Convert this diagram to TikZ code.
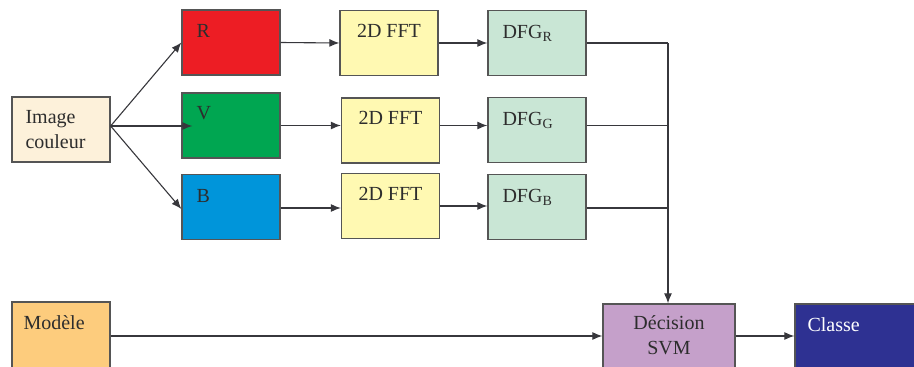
\documentclass[tikz,border=0pt]{standalone}
\usepackage{fontspec}
\setmainfont{Liberation Serif}
\usetikzlibrary{arrows.meta}
\definecolor{beige}{RGB}{253,241,218}
\definecolor{rouge}{RGB}{237,29,36}
\definecolor{vert}{RGB}{0,166,81}
\definecolor{bleu}{RGB}{0,149,218}
\definecolor{jaune}{RGB}{255,249,178}
\definecolor{vertclair}{RGB}{201,230,213}
\definecolor{orangeclair}{RGB}{253,204,125}
\definecolor{mauve}{RGB}{197,160,202}
\definecolor{marine}{RGB}{46,49,146}
\definecolor{bord}{RGB}{85,85,85}
\definecolor{trait}{RGB}{55,55,60}
\definecolor{encre}{RGB}{45,45,45}
\begin{document}
\begin{tikzpicture}[x=1pt, y=-1pt, font=\fontsize{20}{25}\selectfont,
  blk/.style={draw=bord, line width=1.3pt, inner sep=0pt, minimum width=98pt, minimum height=65pt},
  txt/.style={inner sep=0pt, text=encre},
  arr/.style={draw=trait, line width=1.1pt, -{Latex[length=10pt,width=8pt]}},
  lin/.style={draw=trait, line width=1.1pt}]
\useasboundingbox (0,0) rectangle (914,367);
\node[blk, fill=beige] (img) at (61,129.5) {};
\node[blk, fill=rouge] (R) at (231,42.5) {};
\node[blk, fill=vert] (V) at (231,125.5) {};
\node[blk, fill=bleu] (B) at (231,207) {};
\node[blk, fill=jaune] (fftR) at (389,43) {};
\node[blk, fill=jaune] (fftG) at (390.5,130.5) {};
\node[blk, fill=jaune] (fftB) at (390.5,206) {};
\node[blk, fill=vertclair] (dfgR) at (537,43) {};
\node[blk, fill=vertclair] (dfgG) at (537,130) {};
\node[blk, fill=vertclair] (dfgB) at (537,207) {};
\node[blk, fill=orangeclair, minimum height=68pt] (mod) at (61,336) {};
\node[blk, fill=mauve, minimum width=132pt, minimum height=64pt] (svm) at (669,336) {};
\node[blk, fill=marine, minimum width=130pt, minimum height=64pt] (cls) at (860,336) {};
\node[txt, anchor=west, align=left] (timg) at ([shift={(14,0)}]img.west) {Image\\couleur};
\node[txt, anchor=north west] (tR) at ([shift={(15,15)}]R.north west) {R};
\node[txt, anchor=north west] (tV) at ([shift={(15,14)}]V.north west) {V};
\node[txt, anchor=north west] (tB) at ([shift={(15,15)}]B.north west) {B};
\node[txt, anchor=north] (tfftR) at ([shift={(0,14)}]fftR.north) {2D FFT};
\node[txt, anchor=north] (tfftG) at ([shift={(0,14)}]fftG.north) {2D FFT};
\node[txt, anchor=north] (tfftB) at ([shift={(0,14)}]fftB.north) {2D FFT};
\node[txt, anchor=north west] (tdfgR) at ([shift={(15,15)}]dfgR.north west) {DFG\textsubscript{R}};
\node[txt, anchor=north west] (tdfgG) at ([shift={(15,15)}]dfgG.north west) {DFG\textsubscript{G}};
\node[txt, anchor=north west] (tdfgB) at ([shift={(15,15)}]dfgB.north west) {DFG\textsubscript{B}};
\node[txt, anchor=north west] (tmod) at ([shift={(12,14)}]mod.north west) {Modèle};
\node[txt, anchor=north, align=center] (tsvm) at ([shift={(0,12)}]svm.north) {Décision\\SVM};
\node[txt, anchor=north west, text=white] (tcls) at ([shift={(13,14)}]cls.north west) {Classe};
\coordinate (fan) at ([shift={(0,-3.5)}]img.east);
\coordinate (bus) at (668,43);
\draw[arr] (fan) -- (R.west);
\draw[arr] (fan) -- ([xshift=11pt]fan -| V.west);
\draw[arr] (fan) -- ([yshift=-2pt]B.west);
\draw[arr] (R.east) -- (fftR.west);
\draw[arr] (V.east) -- (V.east -| fftG.west);
\draw[arr] ([yshift=-1pt]B.east) -- ([yshift=-1pt]B.east -| fftB.west);
\draw[arr] (fftR.east) -- (dfgR.west);
\draw[arr] (V.east -| fftG.east) -- (V.east -| dfgG.west);
\draw[arr] (fftB.east) -- (fftB.east -| dfgB.west);
\draw[lin] (dfgR.east) -- (bus);
\draw[lin] (V.east -| dfgG.east) -- (V.east -| bus);
\draw[lin] ([yshift=-1pt]B.east -| dfgB.east) -- ([yshift=-1pt]B.east -| bus);
\draw[arr] (bus) -- (bus |- svm.north);
\draw[arr] (mod.east) -- (svm.west);
\draw[arr] (svm.east) -- (cls.west);
\end{tikzpicture}
\end{document}
